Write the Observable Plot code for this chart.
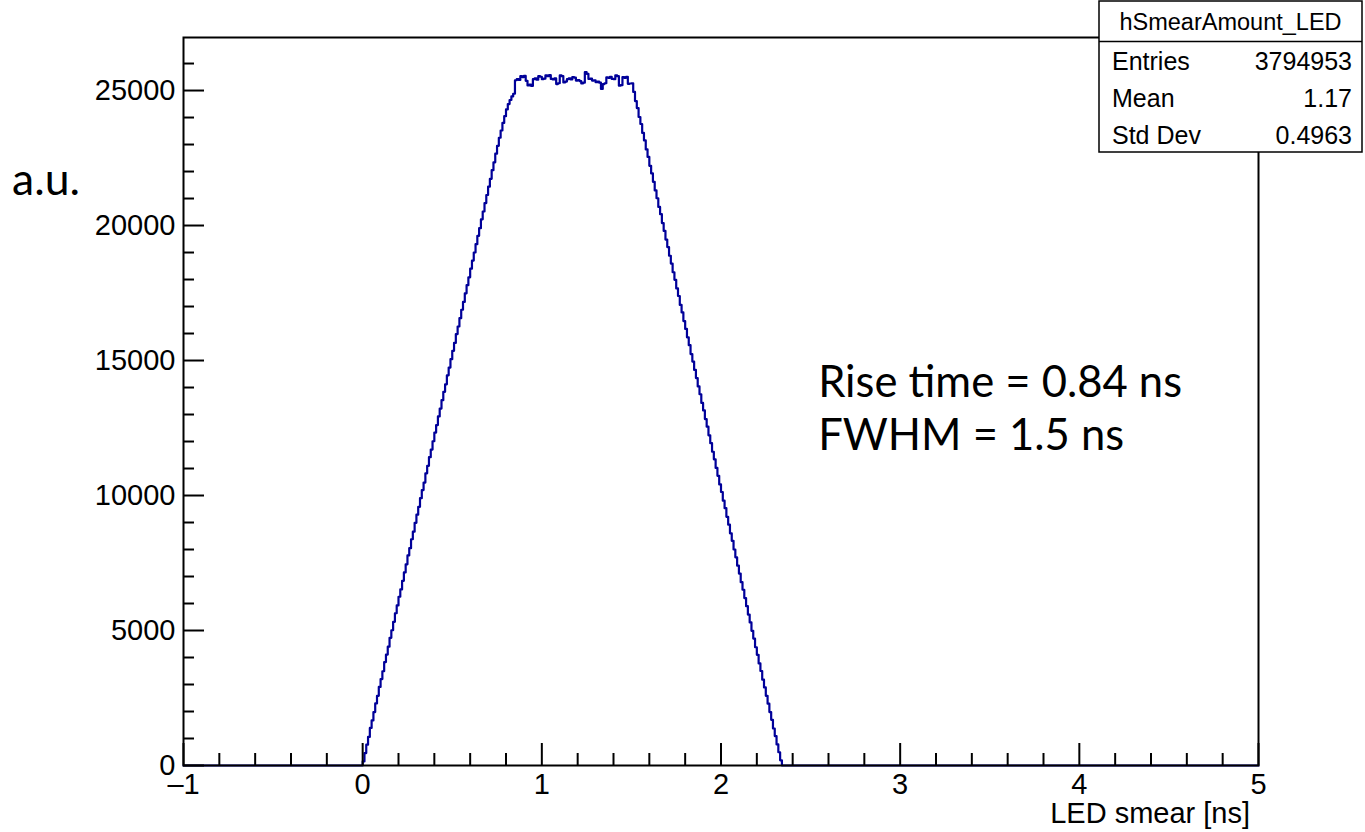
<!DOCTYPE html>
<html><head><meta charset="utf-8">
<script src="https://cdn.jsdelivr.net/npm/d3@7"></script>
<script src="https://cdn.jsdelivr.net/npm/@observablehq/plot@0.6"></script>
<style>
body{margin:0;background:#fff;}
#chart{position:relative;width:1365px;height:832px;}
</style>
</head><body><div id="chart"></div>
<script>
// Histogram: bins of width 0.01 ns starting at 0 ns (all other bins empty)
const binWidth = 0.01;
const firstBinEdge = 0;
const counts = [
  150,460,770,1060,1390,1670,1980,2300,2580,2910,
  3200,3490,3830,4110,4400,4730,5010,5320,5640,5930,
  6250,6520,6840,7150,7450,7780,8050,8380,8660,8990,
  9290,9580,9900,10200,10480,10820,11100,11420,11700,12010,
  12330,12610,12930,13220,13530,13840,14120,14450,14740,15050,
  15360,15650,15980,16260,16570,16880,17170,17490,17790,18080,
  18400,18700,19000,19310,19620,19900,20230,20520,20830,21130,
  21440,21730,22050,22340,22660,22950,23250,23520,23800,24050,
  24300,24500,24650,24780,24880,25380,
  25420,25390,25530,25500,25540,25360,25190,25220,25170,25420,
  25450,25400,25530,25510,25420,25440,25560,25530,25570,25430,
  25410,25450,25240,25270,25560,25530,25300,25330,25420,25450,
  25410,25500,25480,25370,25390,25350,25260,25290,25680,25620,
  25430,25440,25370,25380,25310,25330,25290,25060,25240,25270,
  25490,25470,25510,25430,25420,25560,25530,25180,25200,25500,
  25470,25510,25250,25260,25270,
  24950,24610,24350,24020,23760,23430,23150,22820,22540,22210,
  21930,21620,21300,21010,20690,20420,20090,19800,19480,19200,
  18880,18590,18270,17990,17670,17390,17060,16780,16460,16170,
  15860,15570,15240,14960,14650,14350,14040,13750,13430,13150,
  12830,12550,12230,11940,11620,11340,11020,10730,10410,10130,
  9810,9530,9210,8920,8600,8320,8000,7710,7400,7110,
  6790,6510,6200,5900,5590,5300,4990,4700,4380,4100,
  3780,3500,3180,2890,2580,2290,1980,1690,1370,1090,
  780,490,190
];
const xDomain = [-1, 5];
const yMax = 26964;
const xTicks = [-1, 0, 1, 2, 3, 4, 5];
const yTicks = [0, 5000, 10000, 15000, 20000, 25000];
const xTitle = "LED smear [ns]";
const yTitle = "a.u.";
const statsTitle = "hSmearAmount_LED";
const statsLabels = ["Entries", "Mean", "Std Dev"];
const statsValues = ["3794953", "1.17", "0.4963"];
const notes = ["Rise time = 0.84 ns", "FWHM = 1.5 ns"];

const xMinor = d3.range(-10, 51, 2).map(v => v / 10).filter(v => !Number.isInteger(v));
const yMinor = d3.range(0, 27000, 1000).filter(v => v % 5000 !== 0);

const pts = [{x: xDomain[0], y: 0}];
counts.forEach((c, i) => pts.push({x: firstBinEdge + i * binWidth, y: c}));
pts.push({x: firstBinEdge + counts.length * binWidth, y: 0});
pts.push({x: xDomain[1], y: 0});

const W = 1365, H = 832, mL = 183, mR = 107, mT = 37, mB = 67;
const plotW = W - mL - mR, plotH = H - mT - mB;
const font = "'Liberation Sans', Arial, Helvetica, sans-serif";
const minus = d => (d < 0 ? "\u2013" + Math.abs(d) : String(d));

const plot = Plot.plot({
  width: W, height: H,
  marginLeft: mL, marginRight: mR, marginTop: mT, marginBottom: mB,
  style: {fontFamily: font, background: "#fff", color: "#000", overflow: "visible"},
  x: {domain: xDomain},
  y: {domain: [0, yMax]},
  marks: [
    Plot.line(pts, {x: "x", y: "y", curve: "step-after", stroke: "#000099", strokeWidth: 2.2}),
    Plot.tickX(xTicks, {x: d => d, insetTop: plotH - 22, stroke: "#000", strokeWidth: 2}),
    Plot.tickX(xMinor, {x: d => d, insetTop: plotH - 12, stroke: "#000", strokeWidth: 2}),
    Plot.tickY(yTicks, {y: d => d, insetRight: plotW - 21, stroke: "#000", strokeWidth: 2}),
    Plot.tickY(yMinor, {y: d => d, insetRight: plotW - 11, stroke: "#000", strokeWidth: 2}),
    Plot.frame({stroke: "#000", strokeWidth: 2}),
    Plot.axisX(xTicks, {tickSize: 0, tickPadding: 8, fontSize: 29, label: null, tickFormat: minus}),
    Plot.axisY(yTicks, {tickSize: 0, tickPadding: 8, fontSize: 29, label: null, tickFormat: d => String(d)})
  ]
});
document.getElementById("chart").appendChild(plot);

const svg = d3.select(plot);
const sx = plot.scale("x"), sy = plot.scale("y");

// x-axis title
svg.append("text").attr("x", 1250).attr("y", 823).attr("text-anchor", "end")
  .attr("font-family", font).attr("font-size", 29).attr("fill", "#000").text(xTitle);

// annotation font sized to fit the reference widths
const noteFont = "Lato, 'Open Sans', sans-serif";
function fitText(sel, target) {
  const len = sel.node().getComputedTextLength();
  const fs = parseFloat(sel.attr("font-size"));
  sel.attr("font-size", fs * target / len);
}
const yt = svg.append("text").attr("x", 12).attr("y", 195).attr("text-anchor", "start")
  .attr("font-family", noteFont).attr("font-size", 44).attr("fill", "#000").text(yTitle);
fitText(yt, 68);

const n1 = svg.append("text").attr("x", sx.apply(2.545)).attr("y", sy.apply(13630))
  .attr("text-anchor", "start").attr("font-family", noteFont).attr("font-size", 44)
  .attr("fill", "#000").text(notes[0]);
fitText(n1, 364);
svg.append("text").attr("x", sx.apply(2.545)).attr("y", sy.apply(11670))
  .attr("text-anchor", "start").attr("font-family", noteFont).attr("font-size", n1.attr("font-size"))
  .attr("fill", "#000").text(notes[1]);

// statistics box
const bx = 1099, by = 1, bw = 263, bh = 151;
const g = svg.append("g").attr("font-family", font).attr("fill", "#000");
g.append("rect").attr("x", bx).attr("y", by).attr("width", bw).attr("height", bh)
  .attr("fill", "#fff").attr("stroke", "#000").attr("stroke-width", 1.5);
g.append("line").attr("x1", bx).attr("x2", bx + bw).attr("y1", 41.5).attr("y2", 41.5)
  .attr("stroke", "#000").attr("stroke-width", 1.5);
g.append("text").attr("x", bx + bw / 2).attr("y", 30).attr("text-anchor", "middle")
  .attr("font-size", 23.5).text(statsTitle);
const rowY = [70, 107, 144];
statsLabels.forEach((l, i) => {
  g.append("text").attr("x", 1112).attr("y", rowY[i]).attr("text-anchor", "start")
    .attr("font-size", 25).text(l);
  g.append("text").attr("x", 1352).attr("y", rowY[i]).attr("text-anchor", "end")
    .attr("font-size", 25).text(statsValues[i]);
});
</script>
</body></html>
